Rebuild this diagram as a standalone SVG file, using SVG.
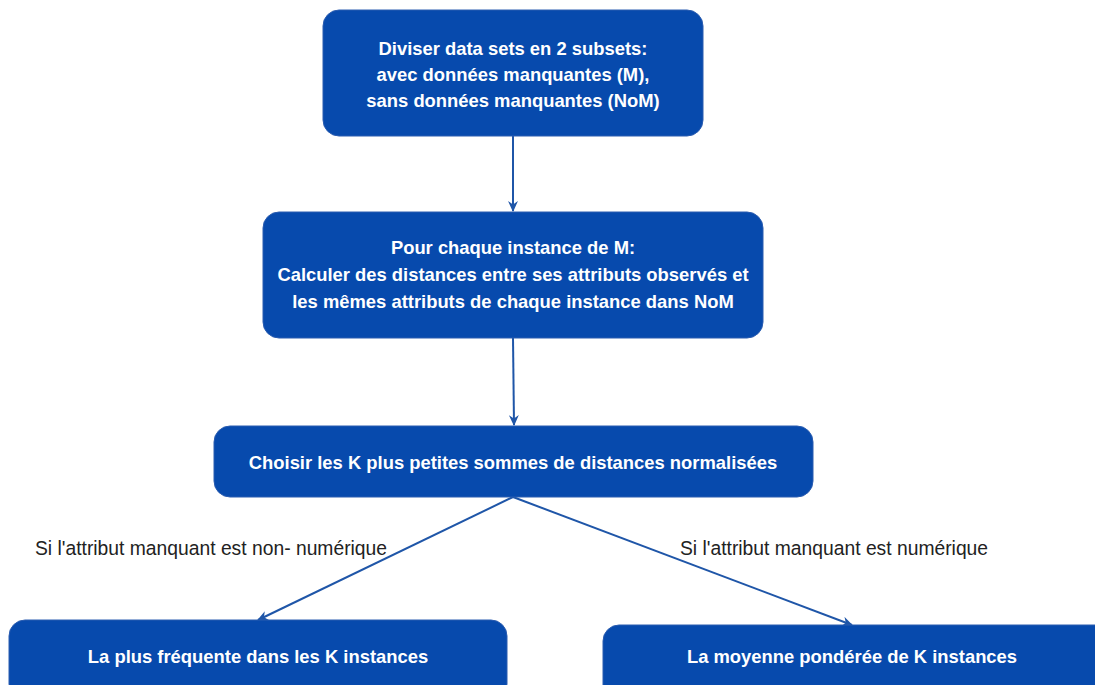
<svg xmlns="http://www.w3.org/2000/svg" width="1095" height="685" viewBox="0 0 1095 685">
  <defs>
    <marker id="arrow" viewBox="0 0 10 10" refX="9" refY="5" markerWidth="11" markerHeight="11" orient="auto-start-reverse" markerUnits="userSpaceOnUse">
      <path d="M0,0.5 L10,5 L0,9.5 L3,5 Z" fill="#1f56a8"/>
    </marker>
  </defs>
  <style>
    .box { fill: #074aad; stroke: #2a5cb0; stroke-width: 1; }
    .label { font-family: "Liberation Sans", Arial, sans-serif; font-size: 18.4px; font-weight: bold; fill: #ffffff; text-anchor: middle; }
    .cond { font-family: "Liberation Sans", Arial, sans-serif; font-size: 19.3px; fill: #222222; }
    .edge { stroke: #1f56a8; stroke-width: 2; fill: none; marker-end: url(#arrow); }
  </style>
  <rect width="1095" height="685" fill="#ffffff"/>

  <g id="connectors">
    <line class="edge" x1="513" y1="136" x2="513" y2="211"/>
    <line class="edge" x1="513" y1="338" x2="514" y2="425"/>
    <line class="edge" x1="513" y1="497" x2="258" y2="620"/>
    <line class="edge" x1="513" y1="497" x2="852" y2="625"/>
    <text class="cond" x="35" y="555">Si l'attribut manquant est non- numérique</text>
    <text class="cond" x="680" y="555">Si l'attribut manquant est numérique</text>
  </g>

  <g id="split">
    <rect class="box" x="323" y="10" width="380" height="126" rx="16"/>
    <text class="label" x="513" y="55">Diviser data sets en 2 subsets:</text>
    <text class="label" x="513" y="81">avec données manquantes (M),</text>
    <text class="label" x="513" y="107">sans données manquantes (NoM)</text>
  </g>

  <g id="distances">
    <rect class="box" x="263" y="212" width="500" height="126" rx="16"/>
    <text class="label" x="513" y="254">Pour chaque instance de M:</text>
    <text class="label" x="513" y="281">Calculer des distances entre ses attributs observés et</text>
    <text class="label" x="513" y="308">les mêmes attributs de chaque instance dans NoM</text>
  </g>

  <g id="choose">
    <rect class="box" x="214" y="426" width="599" height="71" rx="16"/>
    <text class="label" x="513" y="469">Choisir les K plus petites sommes de distances normalisées</text>
  </g>

  <g id="frequent">
    <rect class="box" x="9" y="620" width="498" height="80" rx="16"/>
    <text class="label" x="258" y="663">La plus fréquente dans les K instances</text>
  </g>

  <g id="weighted">
    <rect class="box" x="603" y="625" width="510" height="80" rx="16"/>
    <text class="label" x="852" y="663">La moyenne pondérée de K instances</text>
  </g>
</svg>
